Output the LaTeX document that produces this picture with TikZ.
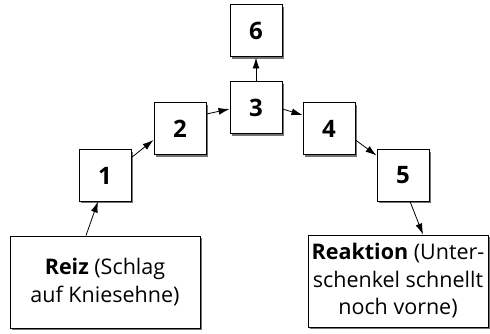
\documentclass[tikz,border=0pt]{standalone}
\usepackage{fontspec}
\setmainfont{Open Sans}
\usetikzlibrary{shadows,arrows.meta}
\begin{document}
\begin{tikzpicture}[x=1pt,y=-1pt,
  box/.style={draw=black, line width=1pt, fill=white, rectangle, inner sep=0pt,
    drop shadow={shadow xshift=2pt, shadow yshift=-2pt, fill=black!55, opacity=1}},
  num/.style={box, minimum width=52pt, minimum height=52pt, font=\fontsize{24}{28}\selectfont\bfseries},
  txt/.style={box, minimum height=92pt, align=center, font=\fontsize{21.5}{27.5}\selectfont},
  arr/.style={line width=0.8pt, -{Latex[length=11pt,width=7pt]}}]
\useasboundingbox (0,0) rectangle (490,334);
\node[num] (b6) at (256,31) {6};
\node[num] (b3) at (256,108) {3};
\node[num] (b2) at (180,129) {2};
\node[num] (b4) at (329,129) {4};
\node[num, minimum height=51pt] (b1) at (105,175.5) {1};
\node[num, minimum height=51pt] (b5) at (403,175.5) {5};
\node[txt, minimum width=190pt] (reiz) at (105,282) {\textbf{Reiz} (Schlag\\auf Kniesehne)};
\node[txt, minimum width=180pt] (reak) at (398,281) {\textbf{Reaktion} (Unter-\\schenkel schnellt\\noch vorne)};
\draw[arr] ([yshift=-8pt]b1.north east) -- ([yshift=-11pt]b2.west);
\draw[arr] ([yshift=15pt]b2.east) -- ([yshift=-1pt]b3.west);
\draw[arr] (b3.north) -- (b6.south);
\draw[arr] ([yshift=-1pt]b3.east) -- ([yshift=14pt]b4.west);
\draw[arr] ([yshift=-11pt]b4.east) -- ([yshift=-6pt]b5.north west);
\draw[arr] ([xshift=-19pt]reiz.north) -- ([xshift=-7pt]b1.south);
\draw[arr] ([xshift=7pt]b5.south) -- ([xshift=25pt]reak.north);
\end{tikzpicture}
\end{document}
